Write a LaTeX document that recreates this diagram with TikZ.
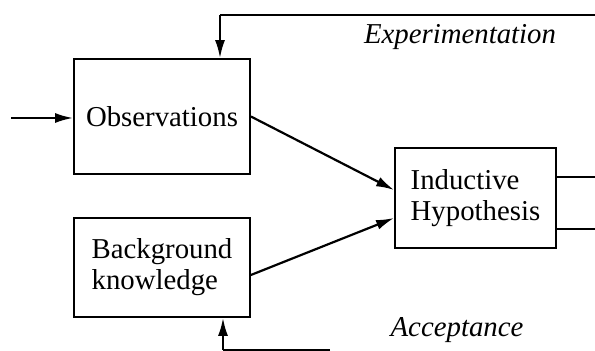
\documentclass[tikz,border=0pt]{standalone}
\usepackage{fontspec}
\setmainfont{Liberation Serif}
\usetikzlibrary{arrows.meta}
\tikzset{
  box/.style={draw, line width=0.9pt, inner sep=0pt},
  flow/.style={line width=1.1pt, -{Latex[length=9pt,width=5pt]}},
  wire/.style={line width=0.9pt},
  tag/.style={font=\fontsize{14.4}{15.5}\selectfont\itshape}
}
\begin{document}
\begin{tikzpicture}[x=0.5pt,y=-0.5pt,font=\fontsize{14.4}{15.5}\selectfont]
  \useasboundingbox (0,0) rectangle (595,351);
  \node[box, minimum width=88pt, minimum height=57.5pt] (obs) at (162,116.5) {Observations};
  \node[box, minimum width=88pt, minimum height=49.5pt, align=left] (bk) at (162,267.5) {Background\\knowledge};
  \node[box, minimum width=80.5pt, minimum height=50pt, align=left] (ind) at (475.5,198) {Inductive\\Hypothesis};
  \coordinate (in) at (11,118);
  \coordinate (tl) at (220,15);
  \coordinate (tr) at (595,15);
  \coordinate (bl) at (223,350);
  \coordinate (br) at (330,350);
  \coordinate (r1) at (595,177);
  \coordinate (r2) at (595,229);
  \node[tag] (exp) at (460,37) {Experimentation};
  \node[tag] (acc) at (457,330) {Acceptance};
  \draw[flow] (in) -- (obs.west |- in);
  \draw[wire] (tr) -- (tl);
  \draw[flow] (tl) -- (tl |- obs.north);
  \draw[flow] (obs.east) -- ([yshift=4pt]ind.west);
  \draw[flow] ([yshift=-3.75pt]bk.east) -- ([yshift=-10pt]ind.west);
  \draw[wire] ([yshift=10.5pt]ind.east) -- (r1);
  \draw[wire] ([yshift=-15.5pt]ind.east) -- (r2);
  \draw[wire] (br) -- (bl);
  \draw[flow] (bl) -- (bl |- bk.south);
\end{tikzpicture}
\end{document}
